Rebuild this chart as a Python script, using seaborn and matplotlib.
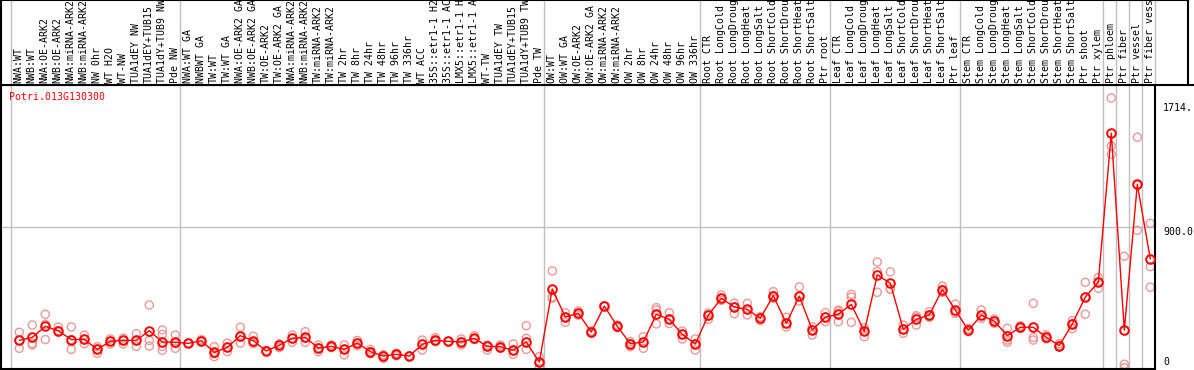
import numpy as np
import pandas as pd
import matplotlib
matplotlib.use("Agg")
import matplotlib.pyplot as plt
from matplotlib.lines import Line2D
from matplotlib.transforms import blended_transform_factory, offset_copy
import seaborn as sns

# ---------------- data ----------------
gene = "Potri.013G130300"

group_nw = ["NWA:WT", "NWB:WT", "NWA:OE-ARK2", "NWB:OE-ARK2", "NWA:miRNA-ARK2",
            "NWB:miRNA-ARK2", "NW 0hr", "WT H2O", "WT-NW", "TUA1dEY NW",
            "TUA1dEY+TUB15", "TUA1dY+TUB9 NW", "Pde NW"]
group_tw = ["NWA:WT GA", "NWBWT GA", "TW:WT", "TW:WT GA", "NWA:OE-ARK2 GA",
            "NWB:OE-ARK2 GA", "TW:OE-ARK2", "TW:OE-ARK2 GA", "NWA:miRNA-ARK2",
            "NWB:miRNA-ARK2", "TW:miRNA-ARK2", "TW:miRNA-ARK2", "TW 2hr", "TW 8hr",
            "TW 24hr", "TW 48hr", "TW 96hr", "TW 336hr", "WT ACC", "35S::etr1-1 H2O",
            "35S::etr1-1 ACC", "LMX5::etr1-1 H2O", "LMX5::etr1-1 ACC", "WT-TW",
            "TUA1dEY TW", "TUA1dEY+TUB15", "TUA1dY+TUB9 TW", "Pde TW"]
group_ow = ["OW:WT", "OW:WT GA", "OW:OE-ARK2", "OW:OE-ARK2 GA", "OW:miRNA-ARK2",
            "OW:miRNA-ARK2", "OW 2hr", "OW 8hr", "OW 24hr", "OW 48hr", "OW 96hr",
            "OW 336hr"]
group_root = ["Root CTR", "Root LongCold", "Root LongDrought", "Root LongHeat",
              "Root LongSalt", "Root ShortCold", "Root ShortDrought", "Root ShortHeat",
              "Root ShortSalt", "Ptr root"]
group_leaf = ["Leaf CTR", "Leaf LongCold", "Leaf LongDrought", "Leaf LongHeat",
              "Leaf LongSalt", "Leaf ShortCold", "Leaf ShortDrought", "Leaf ShortHeat",
              "Leaf ShortSalt", "Ptr leaf"]
group_stem = ["Stem CTR", "Stem LongCold", "Stem LongDrought", "Stem LongHeat",
              "Stem LongSalt", "Stem ShortCold", "Stem ShortDrought", "Stem ShortHeat",
              "Stem ShortSalt", "Ptr shoot", "Ptr xylem"]
group_ptr = [["Ptr phloem"], ["Ptr fiber"], ["Ptr vessel"], ["Ptr fiber vessel"]]

groups = [group_nw, group_tw, group_ow, group_root, group_leaf, group_stem] + group_ptr

mean_values = [
    181, 200, 270, 242, 186, 188, 124, 175, 181, 181, 242, 171, 169,
    162, 179, 105, 137, 211, 179, 114, 150, 194, 200, 133, 143, 124, 164, 110,
    82, 93, 82, 156, 181, 175, 171, 194, 143, 141, 118, 171, 44,
    506, 329, 352, 234, 398, 270, 160, 171, 346, 314, 219, 158,
    340, 447, 392, 377, 320, 464, 289, 460, 247, 327,
    346, 409, 238, 595, 542, 251, 314, 342, 502, 373,
    245, 340, 302, 211, 264, 264, 200, 148, 285, 455, 550,
    1491, 245, 1168, 696,
]

replicates = [
    [232, 181, 131], [278, 162, 152], [346, 283, 186], [266, 236, 242],
    [266, 186, 124], [215, 160, 188], [141, 99, 124], [190, 158, 175],
    [196, 158, 181], [223, 143, 181], [405, 181, 145], [247, 219, 118, 143],
    [215, 131, 161],
    [162, 162, 162], [186, 179, 172], [141, 78, 96], [164, 110, 137],
    [264, 164, 205], [207, 169, 160], [114, 110, 118], [160, 135, 150],
    [215, 169, 194], [236, 169, 194], [152, 110, 133], [152, 135, 143],
    [152, 89, 124], [181, 148, 164], [124, 97, 110], [67, 82, 90],
    [84, 93, 100], [82, 82, 82], [183, 120, 156], [198, 173, 181],
    [175, 175, 175], [152, 171, 190], [211, 186, 194], [152, 120, 143],
    [152, 131, 141], [158, 93, 118], [274, 194, 124], [78, 4, 44],
    [620, 455, 447], [356, 295, 329], [367, 352, 340], [240, 234, 228],
    [398, 398, 398], [278, 261, 270], [173, 141, 160], [204, 131, 171],
    [388, 373, 285], [356, 287, 314], [240, 190, 219], [190, 120, 158],
    [354, 314, 340], [468, 434, 447], [417, 350, 392], [415, 342, 377],
    [331, 306, 320], [489, 447, 464], [327, 266, 289], [519, 430, 460],
    [266, 215, 247], [356, 299, 327],
    [373, 363, 299], [472, 455, 295], [261, 204, 238], [677, 616, 485],
    [614, 506, 506], [278, 226, 251], [337, 278, 327], [363, 327, 342],
    [525, 485, 502], [411, 352, 356],
    [257, 236, 245], [373, 320, 340], [316, 289, 302], [257, 183, 169],
    [274, 257, 264], [415, 200, 183], [215, 190, 200], [160, 140, 148],
    [306, 255, 285], [548, 346, 455], [578, 510, 550],
    [1714, 1410, 1358], [713, 30, 8], [1466, 877, 1161], [921, 647, 517],
]

y_ticks = [1714, 900, 0]
y_tick_labels = ["1714.", "900.0", "0"]

# ---------------- layout ----------------
labels = [lab for g in groups for lab in g]
idx = np.arange(len(labels))
group_starts = np.cumsum([0] + [len(g) for g in groups])

df_mean = pd.DataFrame({"idx": idx, "value": mean_values})
df_rep = pd.DataFrame({
    "idx": [i for i, r in enumerate(replicates) for _ in r],
    "value": [v for r in replicates for v in r],
})

sns.set_theme(style="white")
plt.rcParams['font.family'] = ['DejaVu Sans Mono', 'DejaVu Sans']

W, H = 1194, 370
fig = plt.figure(figsize=(W / 100, H / 100), dpi=100)


def px_axes(x0, y0, x1, y1):
    return fig.add_axes([x0 / W, 1 - y1 / H, (x1 - x0) / W, (y1 - y0) / H])


ax = px_axes(1, 85, 1155, 369)
axl = px_axes(1, 0, 1188, 85)

px_per_unit = 13.0
x_left = (1 - 19.3) / px_per_unit
ax.set_xlim(x_left, x_left + 1154 / px_per_unit)
axl.set_xlim(x_left, x_left + 1187 / px_per_unit)
ax.set_ylim(0, 1796)
axl.set_ylim(0, 85)

grid_color = "#C0C0C0"
sep_offset = 0.65
for s in group_starts:
    ax.axvline(s - sep_offset, color=grid_color, lw=1, zorder=0)
    axl.axvline(s - sep_offset, color=grid_color, lw=1, zorder=0)
ax.axhline(900, color=grid_color, lw=1, zorder=0)

# replicates
sns.scatterplot(data=df_rep, x="idx", y="value", ax=ax, marker="o", s=34,
                facecolor="none", edgecolor="#EE9999", linewidth=1.0,
                zorder=2, legend=False)
# means
sns.lineplot(data=df_mean, x="idx", y="value", ax=ax, color="#FF0000",
             linewidth=1.0, marker="o", markersize=6.2, markerfacecolor="none",
             markeredgecolor="#FF0000", markeredgewidth=1.4, zorder=3)

for a in (ax, axl):
    a.set_xticks([])
    a.set_yticks([])
    a.set_xlabel("")
    a.set_ylabel("")
    for sp in a.spines.values():
        sp.set_color("black")
        sp.set_linewidth(1.5)
    a.set_facecolor("white")

# sample labels
for i, lab in enumerate(labels):
    axl.text(i - 0.06, 2, lab, rotation=90, ha="center", va="bottom",
             fontsize=7.1, color="black", clip_on=True)

# gene name
ax.text(0.0072, 0.958, gene, transform=ax.transAxes, ha="left", va="center",
        fontsize=7.1, color="#FF0000")

# right-side value labels
blend = blended_transform_factory(ax.transAxes, ax.transData)
dy = {1714: -10, 900: -5, 0: 7}
for v, lab in zip(y_ticks, y_tick_labels):
    tr = offset_copy(blend, fig=fig, x=8, y=dy[v], units="dots")
    ax.text(1.0, v, lab, transform=tr, ha="left", va="center", fontsize=7.1,
            color="black", clip_on=False)

fig.add_artist(Line2D([1188 / W, 1.0], [1 - 85 / H, 1 - 85 / H],
                      color="black", lw=1.5))

fig.savefig("out.png", dpi=100)
